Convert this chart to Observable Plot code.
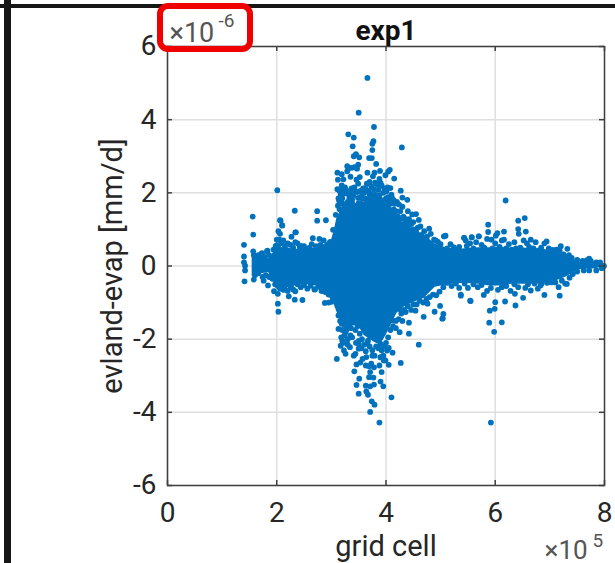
<!DOCTYPE html>
<html>
<head>
<meta charset="utf-8">
<script src="https://cdn.jsdelivr.net/npm/d3@7"></script>
<script src="https://cdn.jsdelivr.net/npm/@observablehq/plot@0.6"></script>
<style>
html,body{margin:0;padding:0;background:#fff;width:615px;height:563px;overflow:hidden}
#wrap{position:relative;width:615px;height:563px;overflow:hidden}
.bar{position:absolute;background:#161616}
#hl{position:absolute;left:157px;top:3px;width:84px;height:37px;border:6px solid #f00000;border-radius:11px;box-sizing:content-box}
svg{display:block;position:absolute;left:0;top:0}
</style>
</head>
<body>
<div id="wrap"></div>
<script>
const chartTitle = "exp1";
const xLabel = "grid cell";
const yLabel = "evland-evap [mm/d]";
const xTicks = [0, 2, 4, 6, 8];
const yTicks = [-6, -4, -2, 0, 2, 4, 6];

// core of the solid mass of points: grid cell (x10^5), upper, lower (x10^-6)
const massX =    [1.55,1.7,1.85,1.95,2.0,2.1,2.2,2.3,2.5,2.7,2.9,3.0,3.05,3.1,3.2,3.3,3.4,3.5,3.6,3.7,3.8,3.9,4.0,4.1,4.2,4.3,4.5,4.7,4.9,5.1,5.3,5.5,5.7,5.9,6.1,6.3,6.5,6.7,6.9,7.1,7.3,7.45,7.55,7.7,7.8,8.0];
const massHigh = [.25,.28,.2,.38,.66,.5,.5,.46,.46,.5,.52,.7,.95,1.3,1.6,1.6,1.6,1.65,1.75,1.9,1.9,1.85,1.7,1.6,1.4,1.2,1.0,.85,.6,.5,.45,.48,.5,.5,.52,.48,.5,.45,.45,.4,.3,.17,.1,.14,.1,.03];
const massLow =  [-.28,-.22,-.18,-.45,-.6,-.55,-.6,-.56,-.5,-.54,-.66,-.95,-1.05,-1.25,-1.65,-1.85,-1.6,-1.65,-1.9,-2.0,-2.1,-2.15,-1.9,-1.6,-1.3,-1.15,-1.0,-.88,-.58,-.52,-.48,-.48,-.5,-.55,-.55,-.5,-.5,-.5,-.48,-.42,-.3,-.17,-.1,-.08,-.08,-.03];

// individually visible points, including those that make the rough edge of the mass
const pointX = [3.66,3.50,3.78,3.31,3.41,3.77,3.75,4.29,3.39,3.75,3.45,3.41,3.51,3.69,3.74,3.82,3.29,3.49,3.42,3.36,3.47,4.07,4.04,3.89,3.79,3.66,3.11,3.19,3.29,3.99,3.76,3.88,3.12,3.22,3.35,3.52,3.46,4.15,3.49,3.19,3.82,3.90,3.11,3.27,3.62,3.73,4.27,4.01,4.08,3.32,3.72,3.88,4.30,4.39,4.04,4.11,3.55,3.49,3.14,3.38,4.24,2.33,2.74,2.74,2.90,4.48,4.55,4.36,4.42,4.60,4.46,4.63,4.79,2.10,2.07,2.34,2.27,3.03,2.66,2.78,2.86,2.97,2.34,2.45,5.06,5.09,5.43,5.46,5.57,5.70,4.91,5.24,
3.88,3.71,4.10,3.79,3.74,3.50,3.67,3.64,3.46,3.63,3.71,3.78,3.95,3.90,3.51,3.69,3.77,3.42,3.92,3.71,4.27,3.10,3.46,3.69,3.88,4.05,4.60,3.53,3.99,3.64,3.79,3.41,3.26,4.12,3.17,3.34,3.63,4.05,4.42,4.25,4.18,4.42,4.30,4.69,4.89,5.04,5.05,4.99,5.55,3.13,3.19,2.22,2.33,2.47,2.88,2.95,2.69,2.86,2.34,2.12,5.37,4.76,4.54,4.36,4.27,4.12,
2.01,1.56,1.57,1.40,1.40,1.40,1.42,1.42,1.41,2.06,2.10,2.06,2.35,1.57,1.73,1.83,2.00,2.02,2.02,2.03,1.95,1.84,1.58,1.76,
6.19,6.54,6.42,5.87,6.42,5.87,6.16,6.04,6.56,6.01,5.07,5.43,5.57,5.70,5.85,5.93,6.43,6.16,6.65,6.94,6.35,6.74,7.20,7.32,5.24,7.05,
5.98,5.89,6.12,5.90,5.99,6.00,6.18,6.37,5.54,6.51,6.90,7.18,7.31,5.37,5.79,6.36,5.03,6.65,6.83,7.72,7.99,5.92,
2.03,2.05,2.08,2.12,2.15,2.2,2.25,2.3,2.38,2.42,2.5,2.55,2.6,2.64,2.72,2.8,2.84,2.92,2.98,
2.02,2.06,2.1,2.15,2.2,2.26,2.3,2.38,2.44,2.5,2.56,2.62,2.7,2.76,2.82,2.9,2.95,3.0,
3.08,3.12,3.15,3.2,3.24,3.3,3.34,3.38,3.42,3.46,3.5,3.56,3.62,3.66,3.7,3.8,3.85,3.92,3.97,4.02,4.08,4.14,4.18,4.22,4.28,4.33,4.4,4.44,4.5,4.55,4.58,4.65,4.7,4.75,4.82,4.88,4.95,
5.0,5.12,5.18,5.28,5.34,5.48,5.54,5.6,5.65,5.75,5.8,5.95,6.0,6.08,6.12,6.2,6.25,6.3,6.38,6.46,6.52,6.58,6.62,6.7,6.78,6.84,6.9,6.98,7.04,7.12,7.18,7.25,7.35,7.4,
3.13,3.16,3.2,3.24,3.18,3.27,3.3,3.22,3.3,3.36,3.4,3.44,3.38,3.48,3.52,3.45,3.5,3.56,3.6,3.55,3.66,3.7,3.75,3.82,3.86,3.92,3.96,3.9,3.95,4.0,4.04,4.08,4.13,4.18,4.23,4.28,4.33,4.4,4.46,4.5,4.56,4.62,4.68,4.74,4.8,4.86,4.92,4.98,
5.05,5.12,5.2,5.28,5.34,5.44,5.5,5.6,5.68,5.75,5.85,5.92,6.05,6.12,6.2,6.28,6.35,6.42,6.55,6.6,6.72,6.78,6.85,6.95,7.02,7.1,7.16,7.22,7.28,7.36,7.42,
3.13,3.17,3.2,3.24,3.3,3.35,3.4,3.44,3.56,3.6,3.68,3.78,3.86,3.95,4.0,4.06,4.16,4.26,4.32,4.38,4.5,
1.58,1.62,1.66,1.72,1.78,1.82,1.86,1.6,1.66,1.74,1.8,1.86,1.92,1.97,1.98,1.94,
7.5,7.6,7.68,7.75,7.85,7.92,7.5,7.62,7.72,7.85,7.95,
3.15,3.22,3.18,3.25,3.33,3.37,3.42,3.47,3.53,3.58,3.65,3.7,3.8,3.85,3.92,3.97,4.03,4.1,4.14,4.2,4.3,4.4,
3.20,3.26,3.35,3.50,3.67,3.90,4.02,3.23,3.57,3.75,3.90,3.96,3.63,3.78,3.73,3.50,3.44];
const pointY = [5.14,4.19,3.80,3.60,3.51,3.41,3.34,3.24,3.27,3.17,3.06,3.00,2.97,2.95,2.95,2.79,2.73,2.77,2.70,2.68,2.66,2.63,2.58,2.60,2.55,2.55,2.55,2.51,2.59,2.48,2.45,2.38,2.36,2.37,2.44,2.43,2.36,2.39,2.25,2.20,2.25,2.27,2.10,2.08,2.13,2.17,2.06,2.04,2.13,1.95,1.97,1.93,1.87,1.81,1.88,1.86,1.90,1.86,1.79,1.81,1.68,1.51,1.50,1.24,1.25,1.41,1.42,1.28,1.28,1.26,1.15,1.08,1.02,1.11,1.24,.92,.80,.99,.76,.74,.70,.64,.65,.55,.81,.83,.77,.70,.78,.81,.70,.51,
-4.28,-3.99,-3.59,-3.79,-3.70,-3.49,-3.52,-3.43,-3.25,-3.27,-3.29,-3.24,-3.29,-3.16,-3.08,-3.04,-3.05,-2.88,-2.90,-2.90,-2.65,-2.54,-2.69,-2.74,-2.72,-2.70,-2.15,-2.64,-2.58,-2.49,-2.45,-2.45,-2.40,-2.37,-2.18,-2.22,-2.33,-2.24,-1.85,-1.81,-1.70,-1.55,-1.50,-1.39,-1.25,-1.43,-1.31,-1.09,-.96,-1.72,-1.58,-.83,-.92,-.93,-1.01,-1.00,-.64,-.69,-.69,-.65,-.78,-1.03,-1.22,-1.26,-1.20,-1.49,
2.07,1.35,.86,.58,.26,.10,.01,-.12,-.42,1.25,1.11,.88,.92,.40,.35,.42,.72,-.76,-1.03,-1.25,-.69,-.53,-.37,-.40,
1.79,1.31,1.24,1.13,1.01,.93,.94,.90,.94,.83,.81,.77,.79,.81,.74,.72,.88,.72,.72,.67,.65,.65,.54,.47,.51,.44,
-1.80,-1.55,-1.54,-1.22,-1.17,-.99,-.97,-1.08,-.95,-.87,-.79,-.81,-.49,-.81,-.79,-.76,-1.44,-.67,-.53,.20,.00,-4.28,
.95,.72,.62,.7,.54,.62,.58,.5,.62,.52,.54,.44,.5,.6,.54,.58,.52,.58,.66,
-.55,-.62,-.58,-.64,-.68,-.58,-.64,-.5,-.58,-.52,-.62,-.54,-.64,-.57,-.68,-.72,-.78,-.98,
1.4,1.65,1.55,1.72,1.6,1.7,1.62,1.72,1.6,1.65,1.72,1.7,1.85,1.8,1.95,1.95,1.85,1.8,1.75,1.65,1.7,1.55,1.5,1.35,1.3,1.15,1.05,1.15,1.0,.95,1.05,.85,.95,.8,.88,.72,.66,
.6,.48,.6,.45,.52,.55,.62,.48,.65,.58,.5,.48,.62,.52,.7,.48,.6,.45,.48,.5,.7,.62,.52,.48,.42,.5,.62,.48,.42,.45,.42,.32,.3,.22,
-1.35,-1.5,-1.75,-1.9,-1.95,-1.75,-2.0,-2.1,-2.15,-1.7,-1.55,-1.75,-1.95,-1.65,-1.85,-2.1,-2.05,-2.0,-2.15,-2.25,-2.1,-2.2,-2.3,-2.2,-2.25,-2.3,-2.2,-2.5,-2.45,-2.1,-1.95,-1.75,-1.65,-1.5,-1.45,-1.3,-1.2,-1.1,-1.2,-1.05,-1.05,-.95,-1.0,-.9,-.85,-.78,-.8,-.7,
-.58,-.46,-.55,-.48,-.6,-.48,-.6,-.5,-.58,-.52,-.68,-.6,-.65,-.58,-.55,-.68,-.5,-.58,-.6,-.5,-.48,-.62,-.48,-.46,-.45,-.45,-.58,-.4,-.48,-.32,-.22,
1.85,1.95,1.85,1.98,1.75,2.0,1.92,2.05,1.85,2.0,2.05,2.1,2.08,2.0,1.85,1.75,1.7,1.5,1.35,1.2,1.2,
.3,.22,.3,.33,.25,.4,.3,-.25,-.2,-.3,-.25,-.3,-.35,-.5,.55,.45,
.17,.14,.16,.14,.1,.1,-.15,-.12,-.12,-.12,-.06,
2.05,2.1,1.7,2.15,1.85,2.12,2.15,2.02,2.05,2.12,2.25,2.3,2.28,2.22,2.2,2.12,2.15,1.95,1.8,1.75,1.62,1.5,
-2.04,-1.81,-1.90,-2.13,-2.04,-2.13,-2.31,-2.31,-2.54,-2.45,-2.49,-2.58,-2.72,-2.77,-2.67,-2.26,-2.40];

const blue = "#0072BD";
const ink = "#404040";
const textInk = "#262626";
const font = "Roboto, sans-serif";

const mass = massX.map((x, i) => ({x, hi: massHigh[i], lo: massLow[i]}));
const points = pointX.map((x, i) => ({x, y: pointY[i]}));
const xFrac = 5 / 54.6, yFrac = 5 / 36.58;

const chart = Plot.plot({
  width: 615, height: 563,
  marginLeft: 167, marginRight: 11, marginTop: 46, marginBottom: 78,
  style: {fontFamily: font, background: "transparent", overflow: "visible"},
  x: {domain: [0, 8], label: null},
  y: {domain: [-6, 6], label: null},
  marks: [
    Plot.ruleX(xTicks, {stroke: "#dfdfdf", strokeWidth: 1.5}),
    Plot.ruleY(yTicks, {stroke: "#dfdfdf", strokeWidth: 1.5}),
    Plot.areaY(mass, {x: "x", y1: "lo", y2: "hi", fill: blue, curve: "linear"}),
    Plot.dot(points, {x: "x", y: "y", r: 2.9, fill: blue}),
    Plot.frame({stroke: ink, strokeWidth: 1.5}),
    Plot.ruleX(xTicks, {y1: -6, y2: -6 + yFrac, stroke: ink, strokeWidth: 1.5}),
    Plot.ruleX(xTicks, {y1: 6, y2: 6 - yFrac, stroke: ink, strokeWidth: 1.5}),
    Plot.ruleY(yTicks, {x1: 0, x2: xFrac, stroke: ink, strokeWidth: 1.5}),
    Plot.ruleY(yTicks, {x1: 8, x2: 8 - xFrac, stroke: ink, strokeWidth: 1.5}),
    Plot.axisX(xTicks, {anchor: "bottom", tickSize: 0, tickPadding: 17, fontSize: 28, fill: textInk, label: null}),
    Plot.axisY(yTicks, {anchor: "left", tickSize: 0, tickPadding: 11, fontSize: 28, fill: textInk, label: null, tickFormat: d => String(d)}),
    Plot.text([chartTitle], {frameAnchor: "top", dy: -26, fontSize: 28, fontWeight: 700, fill: "#111"}),
    Plot.text([xLabel], {frameAnchor: "bottom", dy: 70, fontSize: 29, fill: textInk}),
    Plot.text([yLabel], {frameAnchor: "left", textAnchor: "middle", rotate: -90, dx: -55, fontSize: 29, fill: textInk}),
    Plot.text(["\u00d710"], {frameAnchor: "top-left", textAnchor: "start", dx: 2, dy: -24, fontSize: 27, fill: "#555"}),
    Plot.text(["-6"], {frameAnchor: "top-left", textAnchor: "start", dx: 51, dy: -33, fontSize: 19, fill: "#555"}),
    Plot.text(["\u00d710"], {frameAnchor: "bottom-right", textAnchor: "start", dx: -60, dy: 73, fontSize: 26, fill: "#555"}),
    Plot.text(["5"], {frameAnchor: "bottom-right", textAnchor: "start", dx: -12, dy: 61, fontSize: 19, fill: "#555"})
  ]
});

const wrap = document.getElementById("wrap");
wrap.appendChild(chart);
for (const [l, t, w, h] of [[0, 4, 615, 4], [4, 0, 7, 563]]) {
  const d = document.createElement("div");
  d.className = "bar";
  d.style.cssText = `left:${l}px;top:${t}px;width:${w}px;height:${h}px`;
  wrap.appendChild(d);
}
const hl = document.createElement("div");
hl.id = "hl";
wrap.appendChild(hl);
</script>
</body>
</html>
